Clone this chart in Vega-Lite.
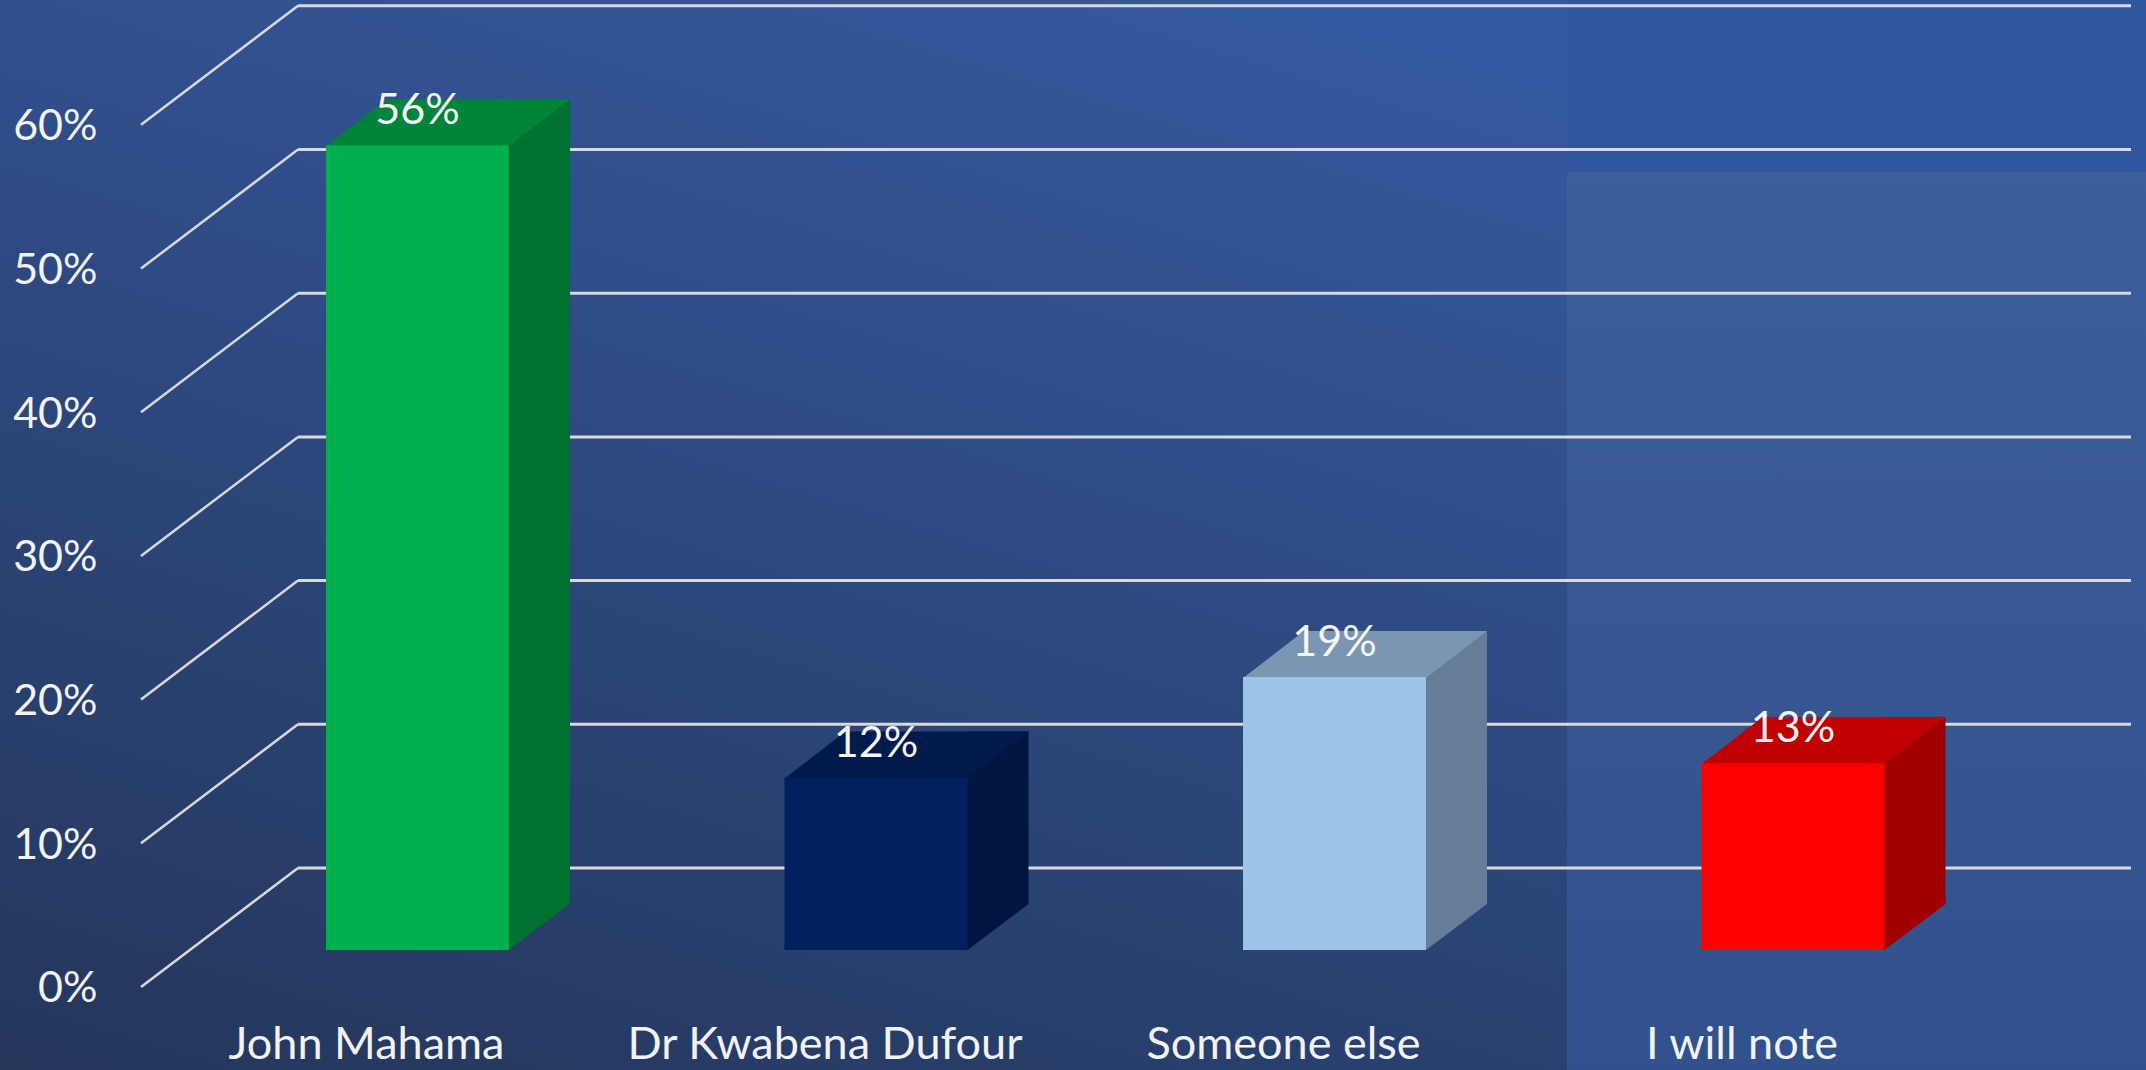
{
  "$schema": "https://vega.github.io/schema/vega-lite/v6.json",
  "width": 2146,
  "height": 1070,
  "autosize": {"type": "none"},
  "padding": 0,
  "background": "#2C4677",
  "config": {
    "font": "Lato",
    "view": {"stroke": null},
    "axisY": {"domain": false, "ticks": false, "tickSize": 0, "grid": false, "zindex": 1,
      "labelFontSize": 43, "labelColor": "#F2F2F2", "labelFont": "Lato",
      "offset": -97, "labelPadding": 0, "labelOffset": 39, "labelAlign": "right",
      "labelBaseline": "middle", "labelFlush": false, "labelOverlap": false, "labelBound": false},
    "axisX": {"domain": false, "ticks": false, "tickSize": 0, "grid": false, "labelAngle": 0, "zindex": 1,
      "labelPadding": 0, "labelBaseline": "alphabetic", "offset": -12,
      "labelOffset": -51, "labelFontSize": 45, "labelColor": "#F2F2F2", "labelFont": "Lato",
      "labelOverlap": false, "labelBound": false, "labelFlush": false, "labelLimit": 0}
  },
  "view": {
    "stroke": null,
    "fill": {"gradient": "linear", "x1": 0, "y1": 1, "x2": 0.6, "y2": 0,
      "stops": [{"offset": 0, "color": "#24365A"}, {"offset": 1, "color": "#3559A0"}]}
  },
  "datasets": {
    "votes": [
      {"cat": "John Mahama", "pct": 0.56},
      {"cat": "Dr Kwabena Dufour", "pct": 0.12},
      {"cat": "Someone else", "pct": 0.19},
      {"cat": "I will note", "pct": 0.13}
    ],
    "ticks": [
      {"t": 0}, {"t": 0.1}, {"t": 0.2}, {"t": 0.3}, {"t": 0.4}, {"t": 0.5}, {"t": 0.6}
    ]
  },
  "layer": [
    {
      "data": {"values": [{}]},
      "mark": {"type": "rect",
        "fill": {"gradient": "linear", "x1": 0, "y1": 0, "x2": 0, "y2": 1,
          "stops": [
            {"offset": 0, "color": "#32569D"},
            {"offset": 0.16, "color": "#32569D"},
            {"offset": 0.161, "color": "#3C5E99"},
            {"offset": 1, "color": "#31518C"}
          ]}},
      "encoding": {"x": {"value": 1567}, "x2": {"value": 2146}, "y": {"value": 0}, "y2": {"value": 1070}}
    },
    {
      "data": {"name": "ticks"},
      "mark": {"type": "rule", "color": "#D9D9D9", "strokeWidth": 3, "yOffset": -82, "y2Offset": -82},
      "encoding": {
        "x": {"value": 298},
        "x2": {"value": 2131},
        "y": {"field": "t", "type": "quantitative", "title": null,
          "scale": {"domain": [-0.08351, 0.6611], "zero": false, "nice": false},
          "axis": {"values": [0, 0.1, 0.2, 0.3, 0.4, 0.5, 0.6], "format": ".0%", "title": null, "zindex": 1}},
        "y2": {"field": "t"}
      }
    },
    {
      "data": {"name": "ticks"},
      "mark": {"type": "rule", "color": "#D9D9D9", "strokeWidth": 2.5, "yOffset": 37, "y2Offset": -82},
      "encoding": {
        "x": {"value": 141},
        "x2": {"value": 298},
        "y": {"field": "t", "type": "quantitative", "title": null,
          "scale": {"domain": [-0.08351, 0.6611], "zero": false, "nice": false},
          "axis": {"values": [0, 0.1, 0.2, 0.3, 0.4, 0.5, 0.6], "format": ".0%", "title": null, "zindex": 1}},
        "y2": {"field": "t"}
      }
    },
    {
      "data": {"name": "votes"},
      "mark": {"type": "bar", "width": 62, "xOffset": 121.5, "yOffset": -46, "y2Offset": -46},
      "encoding": {
        "x": {"field": "cat", "type": "nominal", "sort": null, "title": null,
          "scale": {"domain": ["John Mahama", "Dr Kwabena Dufour", "Someone else", "I will note"],
            "paddingInner": 0.6009, "paddingOuter": 0.6407, "align": 0.5549},
          "axis": {"title": null, "orient": "bottom", "zindex": 1}},
        "y": {"field": "pct", "type": "quantitative", "title": null,
          "scale": {"domain": [-0.08351, 0.6611], "zero": false, "nice": false},
          "axis": {"values": [0, 0.1, 0.2, 0.3, 0.4, 0.5, 0.6], "format": ".0%", "title": null, "zindex": 1}},
        "y2": {"datum": 0},
        "color": {"field": "cat", "type": "nominal", "legend": null,
          "scale": {"domain": ["John Mahama", "Dr Kwabena Dufour", "Someone else", "I will note"],
            "range": ["#00712F", "#001640", "#657D96", "#A00000"]}}
      }
    },
    {
      "data": {"name": "votes"},
      "mark": {"type": "point", "shape": "M90,-50 L90,0 L91.5,0 L152.5,-46 L152.5,-50 Z",
        "size": 4, "filled": true, "opacity": 1, "strokeWidth": 0},
      "encoding": {
        "x": {"field": "cat", "type": "nominal", "sort": null, "title": null,
          "scale": {"domain": ["John Mahama", "Dr Kwabena Dufour", "Someone else", "I will note"],
            "paddingInner": 0.6009, "paddingOuter": 0.6407, "align": 0.5549},
          "axis": {"title": null, "orient": "bottom", "zindex": 1}},
        "y": {"datum": 0, "type": "quantitative", "title": null,
          "scale": {"domain": [-0.08351, 0.6611], "zero": false, "nice": false},
          "axis": {"values": [0, 0.1, 0.2, 0.3, 0.4, 0.5, 0.6], "format": ".0%", "title": null, "zindex": 1}},
        "color": {"field": "cat", "type": "nominal", "legend": null,
          "scale": {"domain": ["John Mahama", "Dr Kwabena Dufour", "Someone else", "I will note"],
            "range": ["#00712F", "#001640", "#657D96", "#A00000"]}}
      }
    },
    {
      "data": {"name": "votes"},
      "mark": {"type": "point", "shape": "M-91.5,1 L91.5,1 L152.5,-46 L-30.5,-46 Z",
        "size": 4, "filled": true, "opacity": 1, "strokeWidth": 0},
      "encoding": {
        "x": {"field": "cat", "type": "nominal", "sort": null, "title": null,
          "scale": {"domain": ["John Mahama", "Dr Kwabena Dufour", "Someone else", "I will note"],
            "paddingInner": 0.6009, "paddingOuter": 0.6407, "align": 0.5549},
          "axis": {"title": null, "orient": "bottom", "zindex": 1}},
        "y": {"field": "pct", "type": "quantitative", "title": null,
          "scale": {"domain": [-0.08351, 0.6611], "zero": false, "nice": false},
          "axis": {"values": [0, 0.1, 0.2, 0.3, 0.4, 0.5, 0.6], "format": ".0%", "title": null, "zindex": 1}},
        "color": {"field": "cat", "type": "nominal", "legend": null,
          "scale": {"domain": ["John Mahama", "Dr Kwabena Dufour", "Someone else", "I will note"],
            "range": ["#00843A", "#001A4C", "#7B96B2", "#C00000"]}}
      }
    },
    {
      "data": {"name": "votes"},
      "mark": {"type": "bar"},
      "encoding": {
        "x": {"field": "cat", "type": "nominal", "sort": null, "title": null,
          "scale": {"domain": ["John Mahama", "Dr Kwabena Dufour", "Someone else", "I will note"],
            "paddingInner": 0.6009, "paddingOuter": 0.6407, "align": 0.5549},
          "axis": {"title": null, "orient": "bottom", "zindex": 1}},
        "y": {"field": "pct", "type": "quantitative", "title": null,
          "scale": {"domain": [-0.08351, 0.6611], "zero": false, "nice": false},
          "axis": {"values": [0, 0.1, 0.2, 0.3, 0.4, 0.5, 0.6], "format": ".0%", "title": null, "zindex": 1}},
        "y2": {"datum": 0},
        "color": {"field": "cat", "type": "nominal", "legend": null,
          "scale": {"domain": ["John Mahama", "Dr Kwabena Dufour", "Someone else", "I will note"],
            "range": ["#00B050", "#002060", "#9DC3E6", "#FF0000"]}}
      }
    },
    {
      "data": {"name": "votes"},
      "mark": {"type": "text", "dy": -21, "baseline": "alphabetic", "align": "center",
        "fontSize": 43, "color": "#F5F5F5", "font": "Lato"},
      "encoding": {
        "x": {"field": "cat", "type": "nominal", "sort": null, "title": null,
          "scale": {"domain": ["John Mahama", "Dr Kwabena Dufour", "Someone else", "I will note"],
            "paddingInner": 0.6009, "paddingOuter": 0.6407, "align": 0.5549},
          "axis": {"title": null, "orient": "bottom", "zindex": 1}},
        "y": {"field": "pct", "type": "quantitative", "title": null,
          "scale": {"domain": [-0.08351, 0.6611], "zero": false, "nice": false},
          "axis": {"values": [0, 0.1, 0.2, 0.3, 0.4, 0.5, 0.6], "format": ".0%", "title": null, "zindex": 1}},
        "text": {"field": "pct", "type": "quantitative", "format": ".0%"}
      }
    }
  ],
  "resolve": {"scale": {"color": "independent"}}
}
